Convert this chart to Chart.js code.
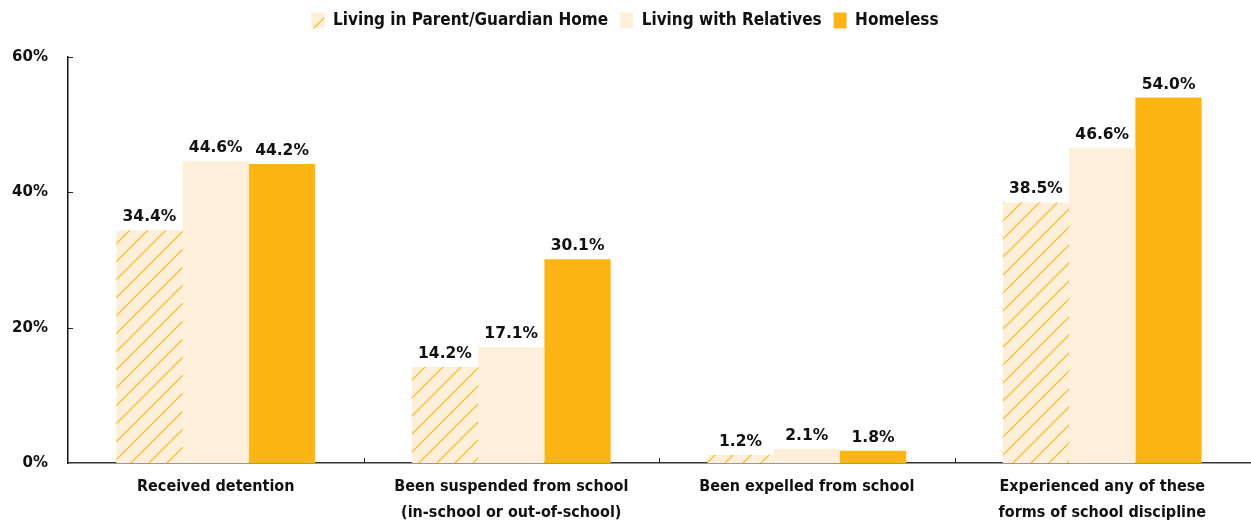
<!DOCTYPE html>
<html><head><meta charset="utf-8">
<script src="https://cdn.jsdelivr.net/npm/chart.js@4.4.1/dist/chart.umd.min.js"></script>
<style>html,body{margin:0;padding:0;background:#fff;}#wrap{width:1251px;height:521px;}</style>
</head><body><div id="wrap"><canvas id="c"></canvas></div>
<script>
const categories = [
  "Received detention",
  ["Been suspended from school", "(in-school or out-of-school)"],
  "Been expelled from school",
  ["Experienced any of these", "forms of school discipline"]
];
const seriesNames = ["Living in Parent/Guardian Home", "Living with Relatives", "Homeless"];
const parentHome = [34.4, 14.2, 1.2, 38.5];
const relatives = [44.6, 17.1, 2.1, 46.6];
const homeless = [44.2, 30.1, 1.8, 54.0];
const yTicks = [0, 20, 40, 60];

const ORANGE = '#FDB515';
const CREAM = '#FEEFDA';
const condensed = "'Liberation Sans Narrow', 'DejaVu Sans Condensed', 'Arial Narrow', sans-serif";
const numFont = "'DejaVu Sans', sans-serif";

function hatch() {
  const s = 18;
  const c = document.createElement('canvas');
  c.width = s; c.height = s;
  const g = c.getContext('2d');
  g.fillStyle = CREAM; g.fillRect(0, 0, s, s);
  g.strokeStyle = ORANGE; g.lineWidth = 1.2;
  g.beginPath();
  g.moveTo(-2, s + 2); g.lineTo(s + 2, -2);
  g.moveTo(-2, 2); g.lineTo(2, -2);
  g.moveTo(s - 2, s + 2); g.lineTo(s + 2, s - 2);
  g.stroke();
  return g.createPattern(c, 'repeat');
}
const hatchFill = hatch();

const legendFit = {
  id: 'legendFit',
  beforeInit(chart) {
    const orig = chart.legend.fit;
    chart.legend.fit = function () { orig.call(this); this.height = 57; };
  }
};

const valueLabels = {
  id: 'valueLabels',
  afterDatasetsDraw(chart) {
    const ctx = chart.ctx;
    ctx.save();
    ctx.font = "bold 15.5px " + numFont;
    ctx.fillStyle = '#111';
    ctx.textAlign = 'center';
    ctx.textBaseline = 'alphabetic';
    chart.data.datasets.forEach((ds, di) => {
      chart.getDatasetMeta(di).data.forEach((bar, i) => {
        ctx.fillText(ds.data[i].toFixed(1) + '%', bar.x, bar.y - 9);
      });
    });
    ctx.restore();
  }
};

const innerTicks = {
  id: 'innerTicks',
  afterDraw(chart) {
    const ctx = chart.ctx;
    const x = chart.scales.x, y = chart.scales.y;
    ctx.save();
    ctx.strokeStyle = '#222';
    ctx.lineWidth = 1;
    ctx.beginPath();
    yTicks.forEach(v => {
      const py = Math.round(y.getPixelForValue(v)) + 0.5;
      if (v !== 0) { ctx.moveTo(x.left, py); ctx.lineTo(x.left + 5, py); }
    });
    for (let i = 0; i < categories.length - 1; i++) {
      const px = Math.round((x.getPixelForValue(i) + x.getPixelForValue(i + 1)) / 2) + 0.5;
      ctx.moveTo(px, y.bottom); ctx.lineTo(px, y.bottom - 5);
    }
    ctx.stroke();
    ctx.restore();
  }
};

new Chart(document.getElementById('c'), {
  type: 'bar',
  data: {
    labels: categories,
    datasets: [
      { label: seriesNames[0], data: parentHome, backgroundColor: hatchFill },
      { label: seriesNames[1], data: relatives, backgroundColor: CREAM },
      { label: seriesNames[2], data: homeless, backgroundColor: ORANGE }
    ]
  },
  options: {
    responsive: true,
    maintainAspectRatio: false,
    animation: false,
    layout: { padding: { top: 0, right: 1, bottom: 0, left: 0 } },
    datasets: { bar: { categoryPercentage: 0.673, barPercentage: 1.0, borderWidth: 0 } },
    plugins: {
      legend: {
        position: 'top',
        labels: {
          boxWidth: 13, boxHeight: 16, padding: 12,
          color: '#111',
          font: { family: condensed, size: 17, weight: 'bold' }
        }
      },
      tooltip: { enabled: false }
    },
    scales: {
      x: {
        afterFit(scale) { scale.height = 58; },
        grid: { display: false, offset: true, drawTicks: false },
        border: { display: true, color: '#333', width: 1.5 },
        ticks: { color: '#111', padding: 11, font: { family: condensed, size: 16, weight: 'bold', lineHeight: 1.6 } }
      },
      y: {
        min: 0, max: 60,
        afterBuildTicks(scale) { scale.ticks = yTicks.map(v => ({ value: v })); },
        afterFit(scale) { scale.width = 68; },
        grid: { display: false, drawTicks: false },
        border: { display: true, color: '#111', width: 1.5 },
        ticks: {
          color: '#111', padding: 20,
          font: { family: numFont, size: 15, weight: 'bold' },
          callback: v => v + '%'
        }
      }
    }
  },
  plugins: [legendFit, valueLabels, innerTicks]
});
</script></body></html>
